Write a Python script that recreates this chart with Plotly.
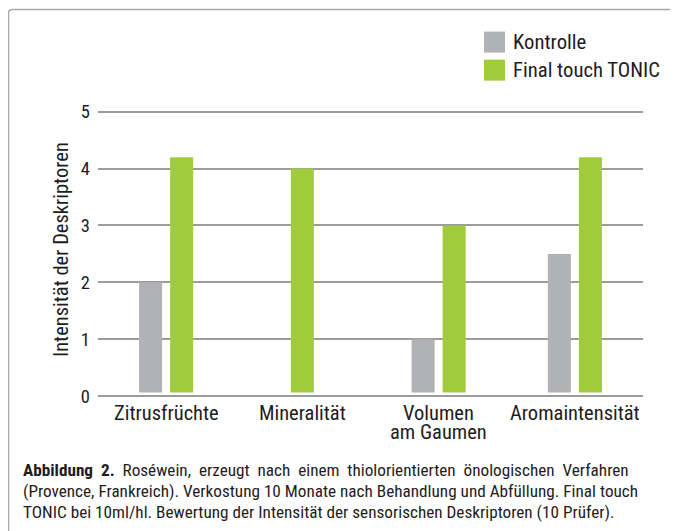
import plotly.graph_objects as go

categories = ["Zitrusfrüchte", "Mineralität", "Volumen\nam Gaumen", "Aromaintensität"]
series_names = ["Kontrolle", "Final touch TONIC"]
kontrolle = [2.0, None, 1.0, 2.5]
tonic = [4.2, 4.0, 3.0, 4.2]
y_ticks = [0, 1, 2, 3, 4, 5]
y_title = "Intensität der Deskriptoren"
caption_lines = [
    "<b>Abbildung  2.</b> Roséwein, erzeugt nach einem thiolorientierten önologischen Verfahren",
    "(Provence, Frankreich). Verkostung 10 Monate nach Behandlung und Abfüllung. Final touch",
    "TONIC bei 10ml/hl. Bewertung der Intensität der sensorischen Deskriptoren (10 Prüfer).",
]
caption_extra_space = [1, 0, 0]  # extra spaces per gap to mimic justified text

colors = ["#b1b2b5", "#a0cc3c"]
FONT = "Roboto Condensed, Liberation Sans Narrow, Liberation Sans, Arial, sans-serif"
TXT = "#1f1c1d"
GRID = "#9c9c9c"

OX, OY = 8, 8
W, H = 678 - OX, 531 - OY
X0, X1 = 98, 643
Y_TOP, Y_BOT = 106.3, 398.8
L, R = X0 - OX, (678 - X1)
T, B = Y_TOP - OY, 531 - Y_BOT
PW, PH = X1 - X0, Y_BOT - Y_TOP


def px(x):
    return (x - X0) / PW


def py(y):
    return (Y_BOT - y) / PH


bar_w = 0.169
off = 0.114
gap = 0.065

all_series = [kontrolle, tonic]
fig = go.Figure()
for s_idx, (name, vals) in enumerate(zip(series_names, all_series)):
    xs, ys = [], []
    for i, v in enumerate(vals):
        if v is None:
            continue
        present = [k for k, ser in enumerate(all_series) if ser[i] is not None]
        if len(present) == 1:
            xs.append(i)
        else:
            xs.append(i - off if s_idx == 0 else i + off)
        ys.append(v - gap)
    fig.add_trace(go.Bar(
        x=xs, y=ys, base=gap, width=bar_w, name=name,
        marker=dict(color=colors[s_idx], line=dict(width=0)),
        showlegend=False,
    ))

annotations = []
for i, cat in enumerate(categories):
    for j, line in enumerate(cat.split("\n")):
        annotations.append(dict(
            x=i, xref="x", y=py(412.5 + 19 * j), yref="paper",
            text=line, showarrow=False, xanchor="center", yanchor="middle",
            font=dict(family=FONT, size=20.5, color=TXT),
        ))
annotations.append(dict(
    x=px(61), xref="paper", y=py(250), yref="paper", text=y_title,
    textangle=-90, showarrow=False, xanchor="center", yanchor="middle",
    font=dict(family=FONT, size=20.5, color=TXT),
))
shapes = []
for k, name in enumerate(series_names):
    yc = 42.5 + 28 * k
    shapes.append(dict(type="rect", xref="paper", yref="paper",
                       x0=px(484), x1=px(505), y0=py(yc - 10.5), y1=py(yc + 10.5),
                       fillcolor=colors[k], line=dict(width=0)))
    annotations.append(dict(
        x=px(511), xref="paper", y=py(yc), yref="paper", text=name,
        showarrow=False, xanchor="left", yanchor="middle",
        font=dict(family=FONT, size=20.7, color=TXT),
    ))
for k, line in enumerate(caption_lines):
    sp = " " + "\u00a0" * caption_extra_space[k]
    text = line.replace("  ", "\u00a0\u00a0").replace(" ", sp) if caption_extra_space[k] else line
    annotations.append(dict(
        x=px(21), xref="paper", y=py(469.5 + 21 * k), yref="paper", text=text,
        showarrow=False, xanchor="left", yanchor="middle", align="left",
        font=dict(family=FONT, size=17.2, color=TXT),
    ))
shapes.append(dict(type="path", xref="paper", yref="paper",
                   path=f"M {px(8.5)},{py(545)} L {px(8.5)},{py(14)} Q {px(8.5)},{py(10)} {px(12.5)},{py(10)} L {px(700)},{py(10)}",
                   line=dict(color="#a8a8a8", width=1.5)))

fig.update_layout(
    width=W, height=H,
    margin=dict(l=L, r=R, t=T, b=B),
    paper_bgcolor="white", plot_bgcolor="white",
    barmode="overlay",
    xaxis=dict(range=[-0.5, 3.5], showticklabels=False, showgrid=False,
               zeroline=False, showline=False, ticks="", tickvals=list(range(len(categories)))),
    yaxis=dict(range=[-0.05, 5.1], tickvals=y_ticks, ticks="", showgrid=True,
               gridcolor=GRID, gridwidth=1.5, zeroline=False, showline=False,
               ticklabelstandoff=7,
               tickfont=dict(family=FONT, size=18.5, color=TXT)),
    annotations=annotations,
    shapes=shapes,
)

fig.write_html("out.html")
